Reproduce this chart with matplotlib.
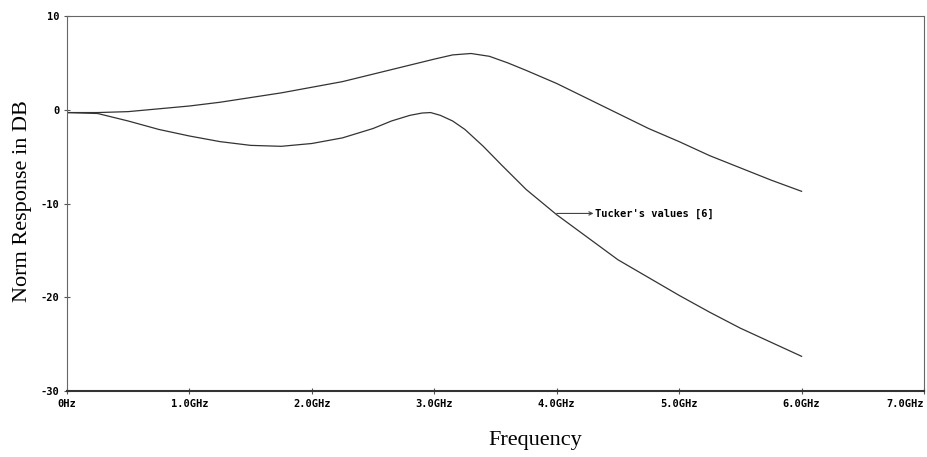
import matplotlib.pyplot as plt
import numpy as np

plt.rcParams['axes.unicode_minus'] = False

# frequency in GHz, response in dB
freq = [0, 0.25, 0.5, 0.75, 1.0, 1.25, 1.5, 1.75, 2.0, 2.25, 2.5, 2.75, 3.0,
        3.15, 3.3, 3.45, 3.6, 3.75, 4.0, 4.25, 4.5, 4.75, 5.0, 5.25, 5.5, 5.75, 6.0]
upper_db = [-0.3, -0.3, -0.2, 0.1, 0.4, 0.8, 1.3, 1.8, 2.4, 3.0, 3.8, 4.6, 5.4,
            5.85, 6.0, 5.7, 5.0, 4.2, 2.8, 1.2, -0.4, -2.0, -3.4, -4.9, -6.2, -7.5, -8.7]

freq_low = [0, 0.25, 0.5, 0.75, 1.0, 1.25, 1.5, 1.75, 2.0, 2.25, 2.5, 2.65, 2.8, 2.9, 2.97,
            3.05, 3.15, 3.25, 3.4, 3.55, 3.75, 4.0, 4.25, 4.5, 4.75, 5.0, 5.25, 5.5, 5.75, 6.0]
lower_db = [-0.3, -0.4, -1.2, -2.1, -2.8, -3.4, -3.8, -3.9, -3.6, -3.0, -2.0, -1.2, -0.6, -0.35, -0.3,
            -0.6, -1.2, -2.1, -3.9, -5.9, -8.5, -11.2, -13.6, -16.0, -17.9, -19.8, -21.6, -23.3, -24.8, -26.3]

xticks = [0, 1, 2, 3, 4, 5, 6, 7]
xlabels = ['0Hz', '1.0GHz', '2.0GHz', '3.0GHz', '4.0GHz', '5.0GHz', '6.0GHz', '7.0GHz']
yticks = [-30, -20, -10, 0, 10]

fig = plt.figure(figsize=(9.28, 4.57), dpi=100)
ax = fig.add_axes([0.0722, 0.1444, 0.9235, 0.8206])

ax.plot(freq, upper_db, color='#333333', linewidth=0.9)
ax.plot(freq_low, lower_db, color='#333333', linewidth=0.9)

# label with arrow pointing away from the lower curve
ax.annotate('', xy=(4.30, -11.06), xytext=(4.0, -11.06),
            arrowprops=dict(arrowstyle='->', color='#444444', lw=0.8,
                            shrinkA=0, shrinkB=0, mutation_scale=6))
ax.text(4.31, -11.06, "Tucker's values [6]", fontsize=7.5, fontweight='bold',
        family='DejaVu Sans Mono', va='center', ha='left')

ax.set_xlim(0, 7)
ax.set_ylim(-30, 10)
ax.set_xticks(xticks)
ax.set_xticklabels(xlabels)
ax.set_yticks(yticks)
for lab in ax.get_xticklabels() + ax.get_yticklabels():
    lab.set_family('DejaVu Sans Mono')
    lab.set_fontsize(7.5)
    lab.set_fontweight('bold')
ax.get_xticklabels()[-1].set_horizontalalignment('right')
ax.tick_params(direction='inout', length=5, width=0.8, color='#555555', pad=3)
for sp in ax.spines.values():
    sp.set_color('#666666')
    sp.set_linewidth(0.8)
ax.spines['bottom'].set_linewidth(1.5)
ax.spines['bottom'].set_color('#333333')

fig.text(0.024, 0.56, 'Norm Response in DB', rotation=90, ha='center', va='center',
         family='Liberation Serif', fontsize=16)
fig.text(0.577, 0.037, 'Frequency', ha='center', va='center',
         family='Liberation Serif', fontsize=16)

plt.savefig('out.png', dpi=100)
